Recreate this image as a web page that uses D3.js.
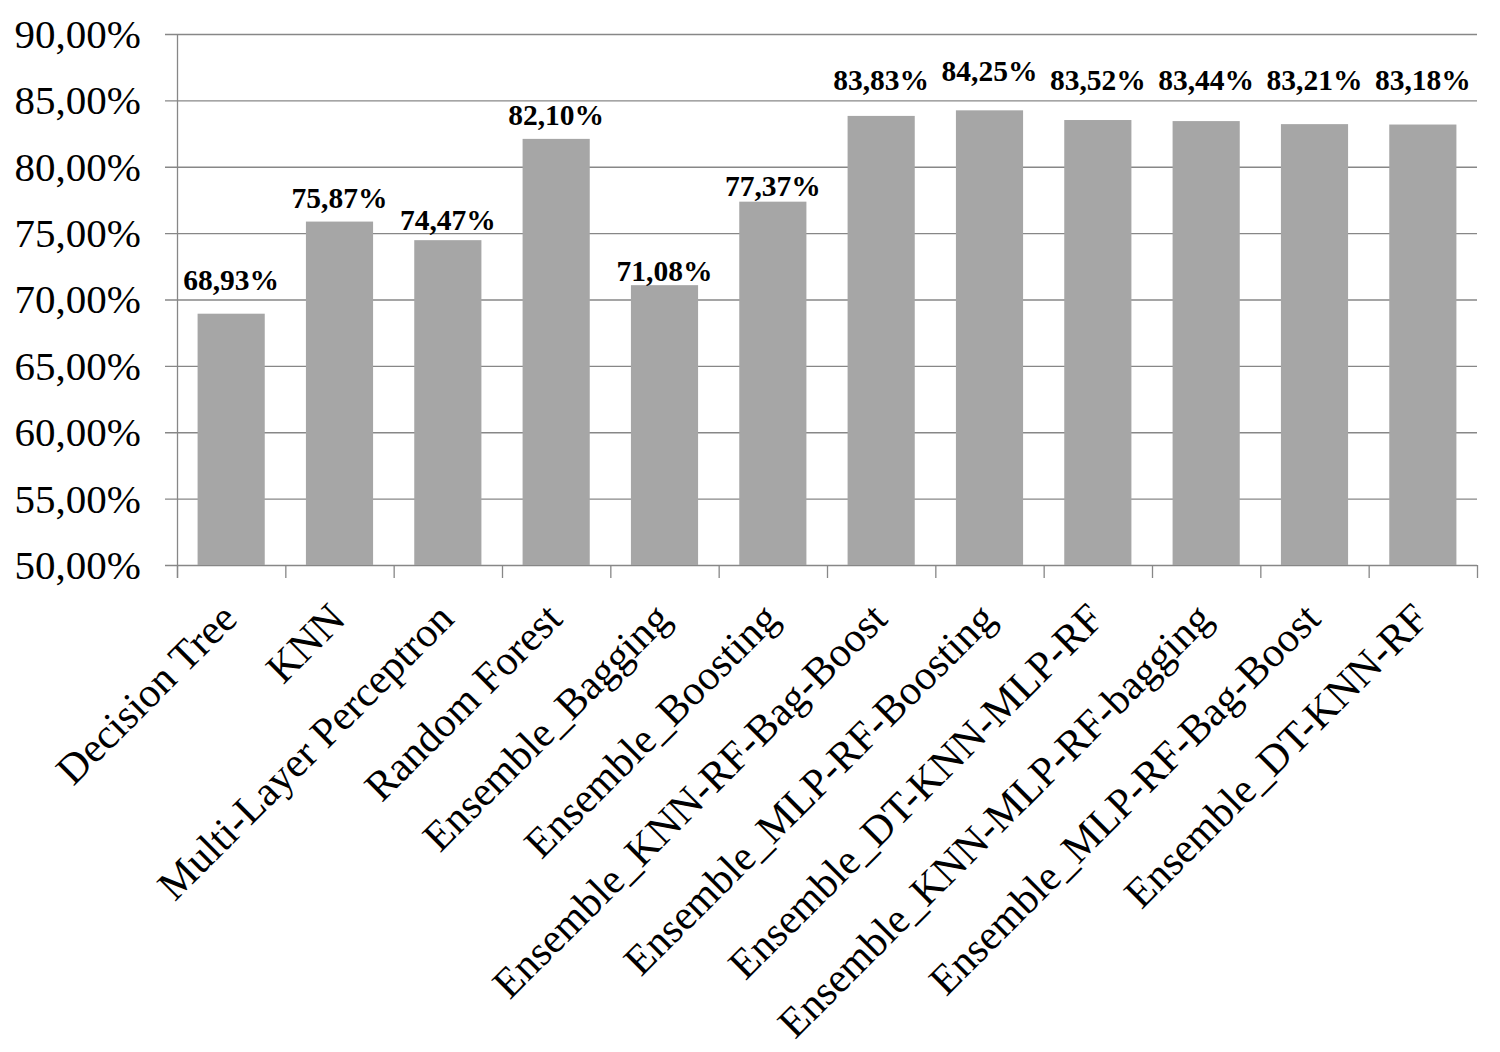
<!DOCTYPE html>
<html>
<head>
<meta charset="utf-8">
<script src="https://cdn.jsdelivr.net/npm/d3@7"></script>
<style>
  html, body { margin: 0; padding: 0; background: #ffffff; }
  svg { display: block; }
</style>
</head>
<body>
<svg id="chart" width="1500" height="1052"></svg>
<script>
// ---- data ----
const categories = [
  "Decision Tree", "KNN", "Multi-Layer Perceptron", "Random Forest",
  "Ensemble_Bagging", "Ensemble_Boosting", "Ensemble_KNN-RF-Bag-Boost",
  "Ensemble_MLP-RF-Boosting", "Ensemble_DT-KNN-MLP-RF",
  "Ensemble_KNN-MLP-RF-bagging", "Ensemble_MLP-RF-Bag-Boost", "Ensemble_DT-KNN-RF"
];
const accuracy = [68.93, 75.87, 74.47, 82.10, 71.08, 77.37, 83.83, 84.25, 83.52, 83.44, 83.21, 83.18];
const yTicks = [50, 55, 60, 65, 70, 75, 80, 85, 90];

// ---- layout (label lift above bar top, px; labels were hand-placed in original) ----
const labelLift = [24, 14, 10, 14, 4, 6, 26, 29, 30, 31, 34, 34.5];

(function () {
const fmt = v => v.toFixed(2).replace(".", ",") + "%";
const font = "'Liberation Serif', 'Times New Roman', serif";

const svg = d3.select("#chart");
const pLeft = 177, pRight = 1477, pTop = 34, pBottom = 565;

const x = d3.scaleBand().domain(categories).range([pLeft, pRight])
  .paddingInner(0.38).paddingOuter(0.19);
const y = d3.scaleLinear().domain([50, 90]).range([pBottom, pTop]);

const gridColor = "#878787";

// gridlines with outward ticks
svg.append("g").selectAll("line").data(yTicks).join("line")
  .attr("x1", pLeft - 12).attr("x2", pRight)
  .attr("y1", d => y(d) + 0.5).attr("y2", d => y(d) + 0.5)
  .attr("stroke", gridColor).attr("stroke-width", 1.3);

// y axis line
svg.append("line")
  .attr("x1", pLeft + 0.5).attr("x2", pLeft + 0.5)
  .attr("y1", pTop).attr("y2", pBottom + 13)
  .attr("stroke", gridColor).attr("stroke-width", 1.3);

// x boundary ticks
const boundaries = d3.range(categories.length + 1).map(i => pLeft + i * (pRight - pLeft) / categories.length);
svg.append("g").selectAll("line").data(boundaries).join("line")
  .attr("x1", d => d + 0.5).attr("x2", d => d + 0.5)
  .attr("y1", pBottom).attr("y2", pBottom + 13)
  .attr("stroke", gridColor).attr("stroke-width", 1.3);

// y tick labels
svg.append("g").selectAll("text").data(yTicks).join("text")
  .attr("x", 141).attr("y", d => y(d))
  .attr("dy", "0.34em")
  .attr("text-anchor", "end")
  .attr("font-family", font).attr("font-size", 41)
  .attr("fill", "#000")
  .text(d => d.toFixed(2).replace(".", ",") + "%");

// bars
svg.append("g").selectAll("rect").data(accuracy).join("rect")
  .attr("x", (d, i) => x(categories[i]))
  .attr("width", x.bandwidth())
  .attr("y", d => y(d))
  .attr("height", d => pBottom - y(d))
  .attr("fill", "#a6a6a6");

// value labels
svg.append("g").selectAll("text").data(accuracy).join("text")
  .attr("x", (d, i) => x(categories[i]) + x.bandwidth() / 2)
  .attr("y", (d, i) => y(d) - labelLift[i])
  .attr("text-anchor", "middle")
  .attr("font-family", font).attr("font-size", 29.5).attr("font-weight", "bold")
  .attr("fill", "#000")
  .text(d => fmt(d));

// x category labels, rotated -45
svg.append("g").selectAll("text").data(categories).join("text")
  .attr("transform", d => `translate(${x(d) + x.bandwidth() / 2 + 8},${pBottom + 56}) rotate(-45)`)
  .attr("text-anchor", "end")
  .attr("font-family", font).attr("font-size", 42)
  .attr("fill", "#000")
  .text(d => d);
})();
</script>
</body>
</html>
